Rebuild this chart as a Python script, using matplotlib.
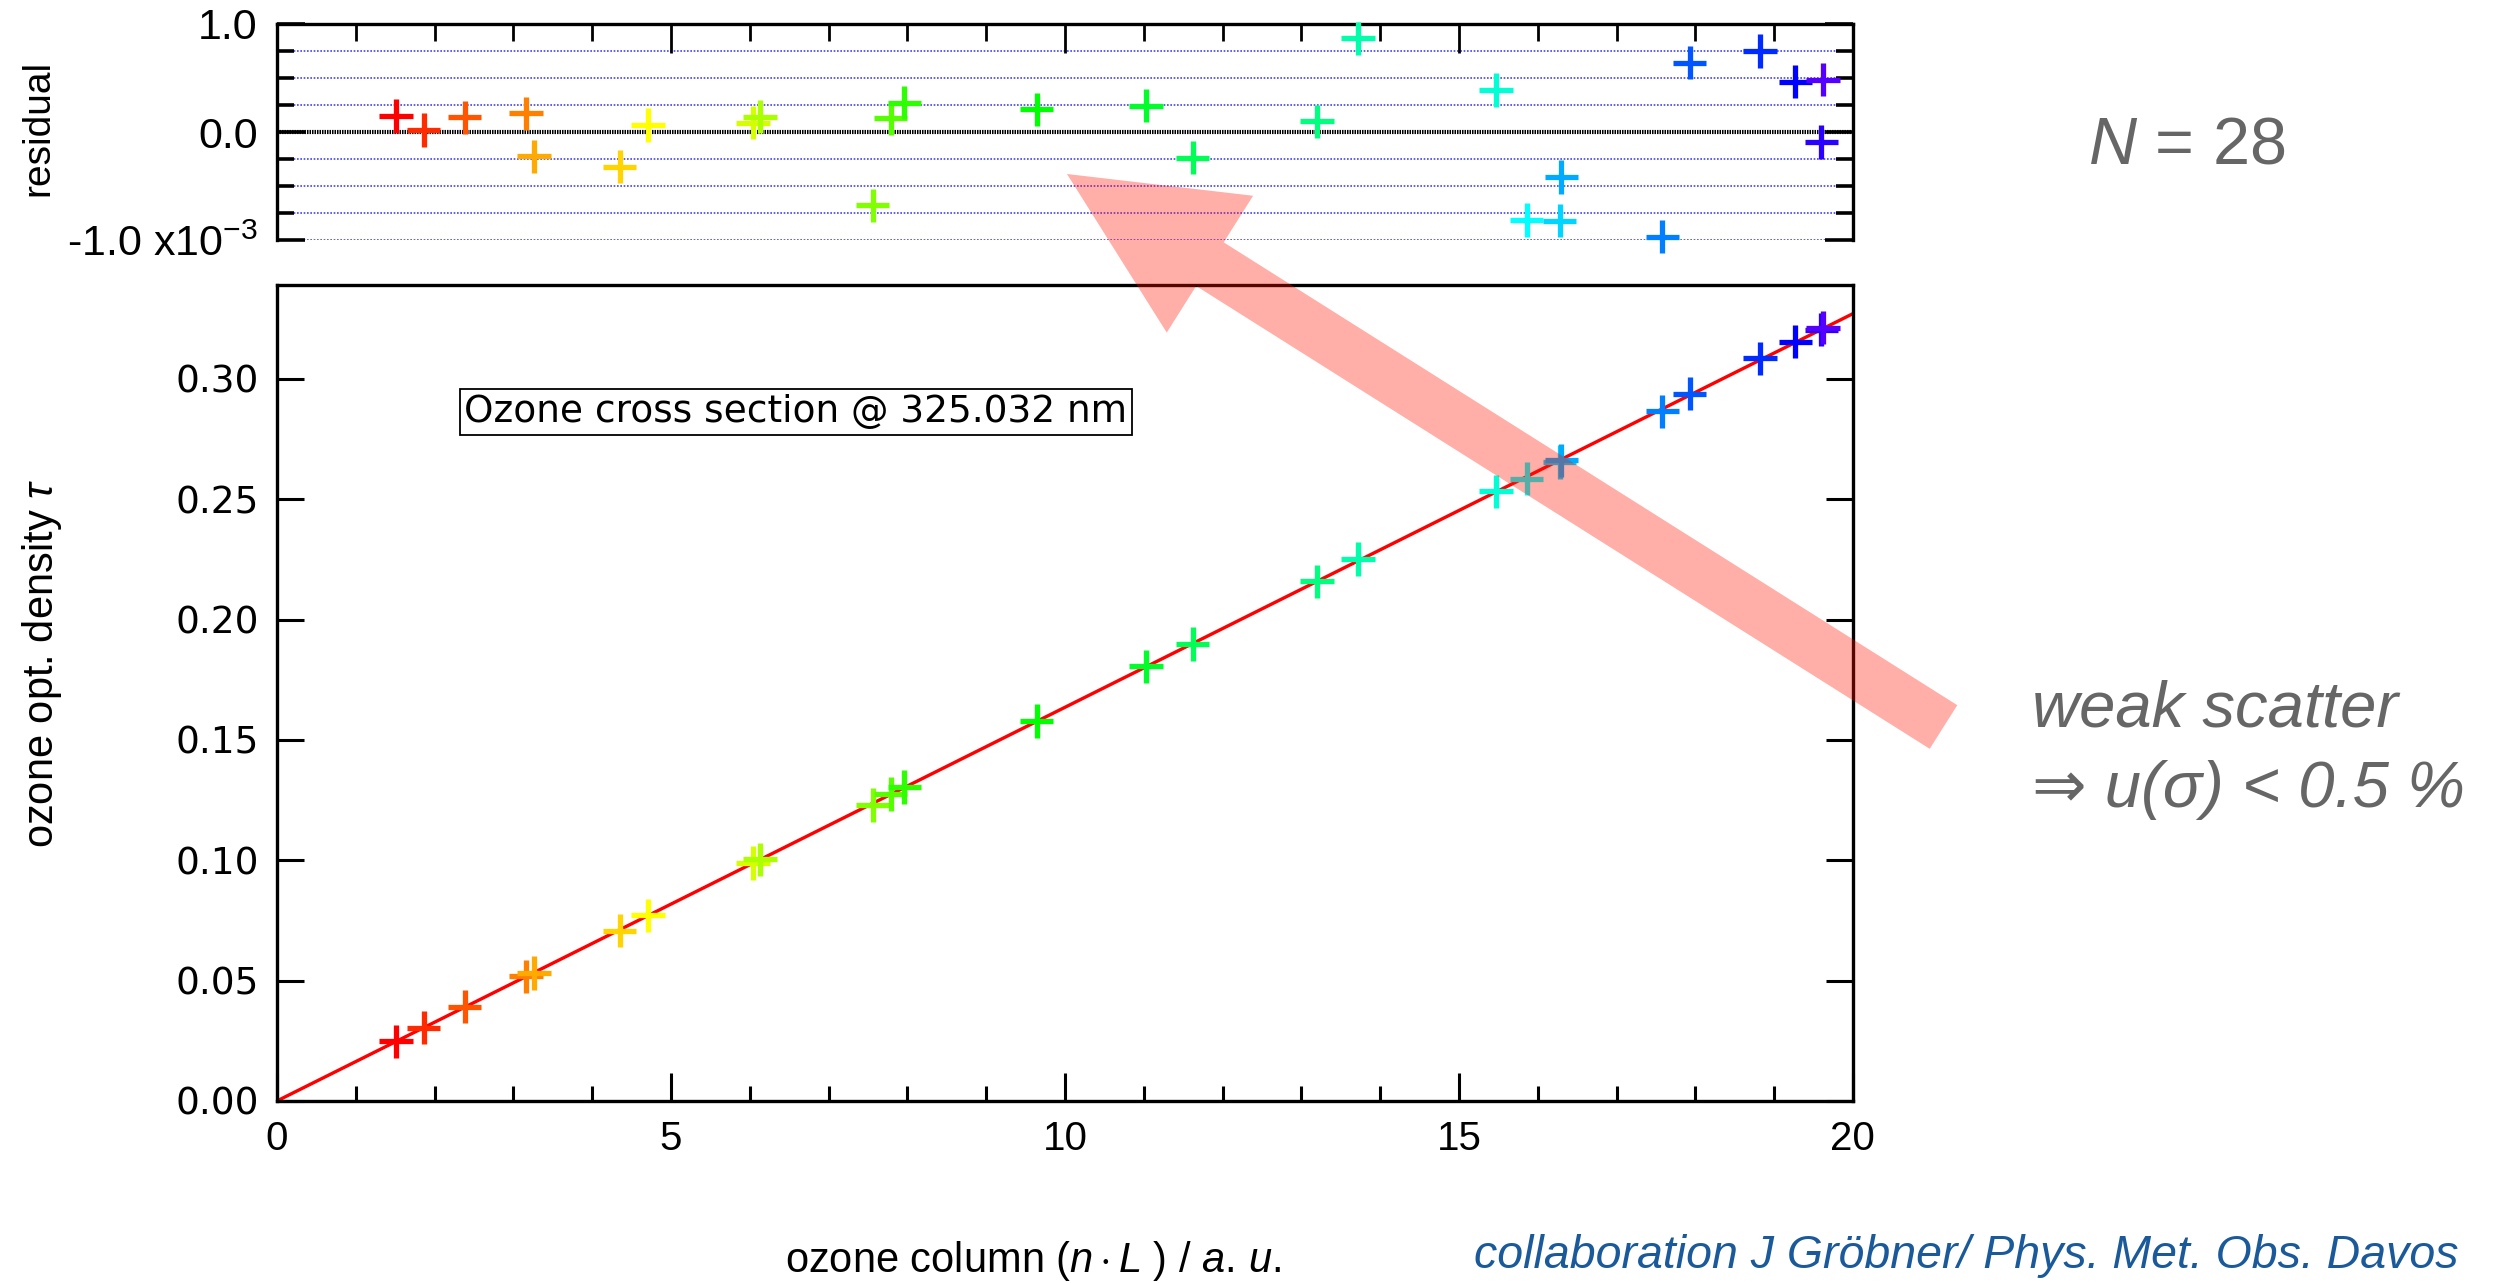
import colorsys

import matplotlib
matplotlib.use('Agg')
import matplotlib.pyplot as plt
import numpy as np
from matplotlib.patches import FancyArrow
from matplotlib.ticker import FixedLocator, FixedFormatter, FormatStrFormatter, MultipleLocator

plt.rcParams['font.family'] = ['Liberation Sans', 'DejaVu Sans']
plt.rcParams['mathtext.fontset'] = 'custom'
plt.rcParams['mathtext.rm'] = 'Liberation Sans'
plt.rcParams['mathtext.it'] = 'Liberation Sans:italic'
plt.rcParams['lines.scale_dashes'] = False

# ozone column n*L (a.u.), measured optical density and fit residual (x 1e-3)
column = [1.51, 1.86, 2.38, 3.16, 3.26, 4.35, 4.71, 6.04, 6.13, 7.56, 7.79, 7.96,
          9.64, 11.03, 11.62, 13.20, 13.72, 15.47, 15.86, 16.28, 16.30, 17.58,
          17.93, 18.82, 19.27, 19.60, 19.62]
tau = [0.0248, 0.0304, 0.0391, 0.0518, 0.0531, 0.0708, 0.0771, 0.0988, 0.1004,
       0.1229, 0.1275, 0.1304, 0.1578, 0.1806, 0.1898, 0.2159, 0.2252, 0.2533,
       0.2585, 0.2654, 0.2661, 0.2865, 0.2938, 0.3085, 0.3155, 0.3204, 0.3213]
residual = [0.148, 0.019, 0.136, 0.173, -0.225, -0.321, 0.065, 0.086, 0.142,
            -0.679, 0.127, 0.272, 0.210, 0.244, -0.238, 0.099, 0.867, 0.389,
            -0.815, -0.821, -0.417, -0.969, 0.642, 0.750, 0.466, -0.093, 0.485]
wavelength = 325.032
n_points = 28

x = np.array(column)
y = np.array(tau)
# straight line through the origin
slope = np.sum(x * y) / np.sum(x * x)

# rainbow colours, one per measurement
colors = [colorsys.hsv_to_rgb(h, 1, 1) for h in np.linspace(0, 0.722, len(x))]

fig = plt.figure(figsize=(25.09, 12.83), dpi=100)
ax = fig.add_axes([0.1104, 0.1419, 0.6281, 0.6360])
axr = fig.add_axes([0.1104, 0.8129, 0.6281, 0.1684])

# ---- main panel
ax.plot([0, 20], [0, 20 * slope], color='red', lw=2.4, zorder=2)
ax.scatter(x, y, s=24**2, marker='+', c=colors, linewidths=3.8, zorder=3, clip_on=False)
ax.set_xlim(0, 20)
ax.set_ylim(0, 0.339)
ax.xaxis.set_major_locator(MultipleLocator(5))
ax.xaxis.set_minor_locator(MultipleLocator(1))
ax.yaxis.set_major_locator(MultipleLocator(0.05))
ax.yaxis.set_major_formatter(FormatStrFormatter('%.2f'))
ax.tick_params(axis='x', which='major', direction='in', length=20, width=2.2,
               labelsize=29, pad=14, top=False)
ax.tick_params(axis='x', which='minor', direction='in', length=11, width=2.2, top=False)
ax.tick_params(axis='y', which='major', direction='in', length=19.5, width=2.2,
               left=True, right=True, labelsize=27, pad=13, labelfontfamily='DejaVu Sans')
for sp in ax.spines.values():
    sp.set_linewidth(2.4)

ax.text(0.3293, 0.8444, 'Ozone cross section @ %.3f nm' % wavelength, transform=ax.transAxes,
        ha='center', va='center', family='DejaVu Sans', size=27,
        bbox=dict(boxstyle='square,pad=0.13', fc='white', ec='black', lw=1.3))

# ---- residual panel
for v in [-1, -0.75, -0.5, -0.25, 0.25, 0.5, 0.75, 1]:
    axr.axhline(v, color='#5050ff', lw=1.3, linestyle=(0, (1.2, 1.2)), zorder=1)
axr.axhline(0, color='black', lw=3.0, linestyle=(0, (1.1, 0.7)), zorder=1)
axr.scatter(x, residual, s=24**2, marker='+', c=colors, linewidths=3.8, zorder=3, clip_on=False)
axr.set_xlim(0, 20)
axr.set_ylim(-1, 1)
axr.spines['bottom'].set_visible(False)
for sp in ['left', 'right', 'top']:
    axr.spines[sp].set_linewidth(2.4)
axr.xaxis.set_major_locator(MultipleLocator(5))
axr.xaxis.set_minor_locator(MultipleLocator(1))
axr.tick_params(axis='x', which='both', direction='in', bottom=False, top=True,
                labelbottom=False, width=2)
axr.tick_params(axis='x', which='major', length=21)
axr.tick_params(axis='x', which='minor', length=12)
axr.yaxis.set_major_locator(FixedLocator([-1, 0, 1]))
axr.yaxis.set_major_formatter(FixedFormatter(['-1.0 x10$^{-3}$', '0.0', '1.0']))
axr.yaxis.set_minor_locator(FixedLocator([-0.75, -0.5, -0.25, 0.25, 0.5, 0.75]))
axr.tick_params(axis='y', which='both', direction='in', left=True, right=True, width=2.6)
axr.tick_params(axis='y', which='major', length=20, labelsize=31, pad=14)
axr.tick_params(axis='y', which='minor', length=12)

# ---- labels and notes
fig.text(1033 / 2509, 1 - 1272 / 1283, r'ozone column ($n\cdot L$ ) / $a.\,u.$',
         ha='center', va='baseline', size=30)
fig.text(42 / 2509, 1 - 663 / 1283, r'ozone opt. density $\tau$', rotation=90,
         ha='center', va='center', size=30)
fig.text(38 / 2509, 1 - 128 / 1283, 'residual', rotation=90, ha='center', va='center', size=28)

fig.text(2088 / 2509, 1 - 163 / 1283, r'$N$ = %d' % n_points, size=48, color='#666666',
         ha='left', va='baseline')
fig.text(2032 / 2509, 1 - 727 / 1283, 'weak scatter', style='italic', size=47,
         color='#666666', ha='left', va='baseline')
fig.text(2032 / 2509, 1 - 807 / 1283, '⇒ u(σ) < 0.5 %', style='italic', size=47,
         color='#666666', ha='left', va='baseline')
fig.text(1474 / 2509, 1 - 1268 / 1283, 'collaboration J Gröbner/ Phys. Met. Obs. Davos',
         style='italic', size=33.5, color='#1a5a9b', ha='left', va='baseline')

# translucent pointer from the note towards the residuals (figure inches)
arrow = FancyArrow(19.435, 5.56, -8.765, 5.53, width=0.516, head_width=1.618,
                   head_length=1.69, length_includes_head=True,
                   transform=fig.dpi_scale_trans, color=(1, 0.08, 0), alpha=0.34, lw=0)
fig.add_artist(arrow)

fig.savefig('out.png', dpi=100)
